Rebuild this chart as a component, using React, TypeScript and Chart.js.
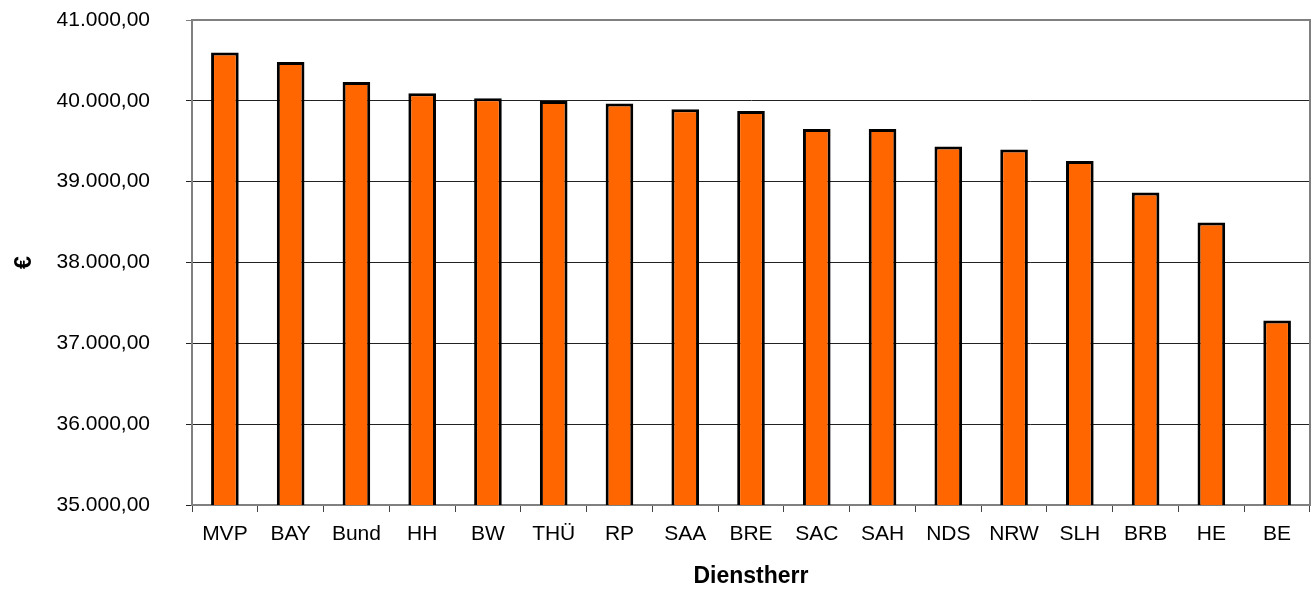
import React, { useEffect, useRef } from "react";
import { Chart, registerables } from "chart.js";

Chart.register(...registerables);

const categories = ["MVP", "BAY", "Bund", "HH", "BW", "THÜ", "RP", "SAA", "BRE", "SAC", "SAH", "NDS", "NRW", "SLH", "BRB", "HE", "BE"];
const values = [40597, 40481, 40234, 40094, 40032, 39999, 39967, 39896, 39875, 39653, 39653, 39435, 39398, 39257, 38867, 38496, 37284];
const yMin = 35000;
const yMax = 41000;
const yStep = 1000;
const yTitle = "€";
const xTitle = "Dienstherr";

const FONT = "'Liberation Sans', Arial, Helvetica, sans-serif";

function formatDe(v: number): string {
  const neg = v < 0;
  const abs = Math.abs(v);
  const intPart = Math.floor(abs).toString().replace(/\B(?=(\d{3})+(?!\d))/g, ".");
  const dec = Math.round((abs - Math.floor(abs)) * 100).toString().padStart(2, "0");
  return (neg ? "-" : "") + intPart + "," + dec;
}

const borderPlugin = {
  id: "areaBorder",
  afterDraw(chart: any) {
    const { ctx, chartArea } = chart;
    ctx.save();
    ctx.strokeStyle = "#808080";
    ctx.lineWidth = 2;
    ctx.beginPath();
    ctx.moveTo(chartArea.left, chartArea.top);
    ctx.lineTo(chartArea.right, chartArea.top);
    ctx.lineTo(chartArea.right, chartArea.bottom);
    ctx.stroke();
    ctx.restore();
  },
};

export default function App() {
  const ref = useRef<HTMLCanvasElement | null>(null);
  useEffect(() => {
    document.body.style.margin = "0";
    if (!ref.current) return;
    const chart = new Chart(ref.current, {
      type: "bar",
      data: {
        labels: categories,
        datasets: [
          {
            data: values,
            backgroundColor: "#FF6600",
            borderColor: "#000000",
            borderWidth: 3,
            barPercentage: 0.42,
            categoryPercentage: 1,
          },
        ],
      },
      plugins: [borderPlugin],
      options: {
        animation: false,
        responsive: true,
        maintainAspectRatio: false,
        layout: { padding: { left: 0, right: 3, top: 20, bottom: 0 } },
        plugins: { legend: { display: false }, tooltip: { enabled: false } },
        scales: {
          x: {
            afterFit: (scale: any) => {
              scale.height = 85;
            },
            grid: {
              offset: true,
              drawOnChartArea: false,
              drawTicks: true,
              tickLength: 7,
              color: "#444444",
              lineWidth: 1,
            },
            border: { display: true, color: "#808080", width: 2 },
            ticks: {
              color: "#000000",
              padding: 10,
              font: { family: FONT, size: 21 },
              maxRotation: 0,
              autoSkip: false,
            },
            title: {
              display: true,
              text: xTitle,
              color: "#000000",
              font: { family: FONT, size: 23, weight: "bold" },
              padding: { top: 0, bottom: 0 },
            },
          },
          y: {
            min: yMin,
            max: yMax,
            afterFit: (scale: any) => {
              scale.width = 192;
              scale.paddingTop = 12;
              scale.paddingBottom = 12;
            },
            ticks: {
              stepSize: yStep,
              color: "#000000",
              padding: 36,
              font: { family: FONT, size: 21 },
              callback: (v: any) => formatDe(Number(v)),
            },
            grid: {
              color: (c: any) => (c.tick && c.tick.value === yMax ? "#808080" : "#222222"),
              lineWidth: 1,
              tickLength: 6,
              drawTicks: true,
            },
            border: { display: true, color: "#808080", width: 2 },
            title: {
              display: true,
              text: yTitle,
              color: "#000000",
              font: { family: FONT, size: 23, weight: "bold" },
              padding: { top: 11, bottom: 0 },
            },
          },
        },
      },
    });
    return () => chart.destroy();
  }, []);
  return (
    <div style={{ position: "relative", width: 1313, height: 590 }}>
      <canvas ref={ref} />
    </div>
  );
}
